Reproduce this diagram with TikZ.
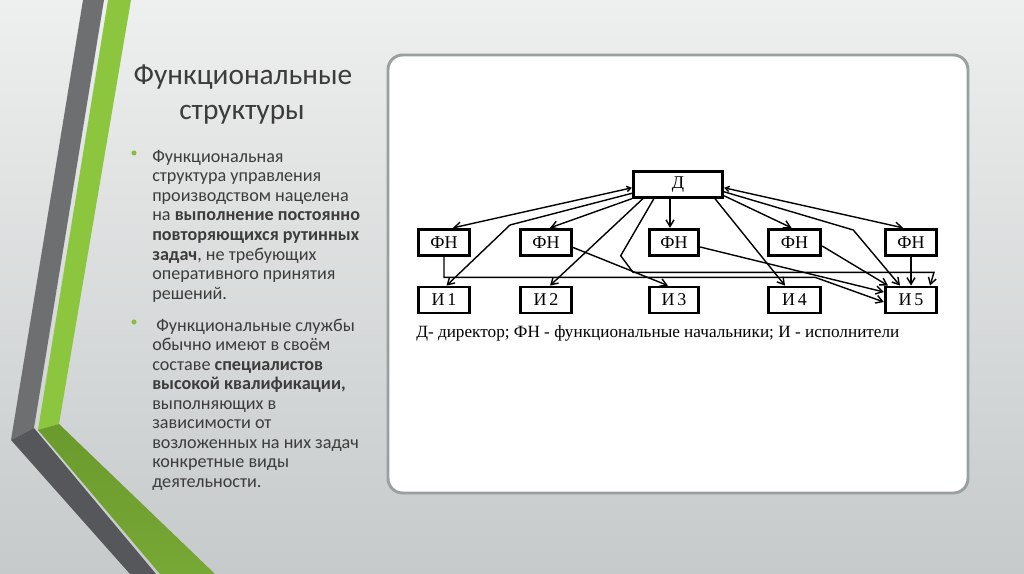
\documentclass[tikz,border=0pt]{standalone}
\usepackage{fontspec}
\setmainfont{Carlito}
\newfontfamily\serifcyr{Liberation Serif}
\usetikzlibrary{arrows.meta,calc}
\definecolor{bgtop}{HTML}{EEEFEF}
\definecolor{bgbot}{HTML}{C6CACA}
\definecolor{stripegray}{HTML}{6E6F71}
\definecolor{stripegraydark}{HTML}{55575A}
\definecolor{stripegreen}{HTML}{8CC63F}
\definecolor{stripegreendark}{HTML}{6A9A2C}
\definecolor{textgray}{HTML}{3C3C3C}
\definecolor{panelborder}{HTML}{9A9F9F}
\definecolor{bulletgreen}{HTML}{8DB843}
\tikzset{
  box/.style={draw=black, line width=2.1pt, fill=white, inner sep=0pt,
    minimum width=38.6pt, minimum height=19.9pt,
    font=\serifcyr\fontsize{13.5}{13.5}\selectfont},
  conn/.style={draw=black, line width=1.05pt},
  arr/.style={-{Straight Barb[length=5pt,width=6pt]}},
  darr/.style={{Straight Barb[length=3pt,width=4pt]}-{Straight Barb[length=5pt,width=6pt]}},
  bodytext/.style={anchor=base west, inner sep=0pt, text=textgray,
    font=\fontsize{13.6}{15}\selectfont},
  titletext/.style={anchor=base, inner sep=0pt, text=textgray,
    font=\fontsize{22}{26}\selectfont}
}
\begin{document}
\begin{tikzpicture}[x=0.75pt,y=-0.75pt]
\useasboundingbox (0,0) rectangle (1024,574);
% background
\shade[top color=bgtop, bottom color=bgbot] (0,0) rectangle (1024,574);
% left decorative stripes
\fill[stripegray] (83,0) -- (104,0) -- (34,428) -- (11,440) -- cycle;
\fill[stripegraydark] (11,440) -- (34,428) -- (156,574) -- (130,574) -- cycle;
\fill[stripegreen] (108,0) -- (131,0) -- (59,424) -- (38,430) -- cycle;
\shade[top color=stripegreendark, bottom color=stripegreen!85!black] (38,430) -- (59,424) -- (215,574) -- (160,574) -- cycle;
% panel
\draw[draw=panelborder, line width=2.2pt, fill=white, rounded corners=11pt] (388,55) rectangle (968,493);
% title
\node[titletext] (t1) at (243,85) {Функциональные};
\node[titletext] (t2) at (242,120) {структуры};
% bullets
\fill[bulletgreen] (134,153) circle[radius=1.9pt];
\fill[bulletgreen] (134,322) circle[radius=1.9pt];
% paragraph 1
\foreach \t [count=\i] in {
  {Функциональная},
  {структура управления},
  {производством нацелена},
  {на \textbf{выполнение постоянно}},
  {\textbf{повторяющихся рутинных}},
  {\textbf{задач}, не требующих},
  {оперативного принятия},
  {решений.}}
  \node[bodytext] (pa\i) at (152,{162+(\i-1)*19.6}) {\t};
% paragraph 2
\foreach \t [count=\i] in {
  {\hspace{3pt}Функциональные службы},
  {обычно имеют в своём},
  {составе \textbf{специалистов}},
  {\textbf{высокой квалификации,}},
  {выполняющих в},
  {зависимости от},
  {возложенных на них задач},
  {конкретные виды},
  {деятельности.}}
  \node[bodytext] (pb\i) at (152,{331+(\i-1)*19.5}) {\t};
% diagram nodes
\node[box, minimum width=67.1pt, minimum height=19.5pt] (D) at (678,184.3) {Д};
\node[box] (F1) at (444,242.5) {ФН};
\node[box] (F2) at (546,242.5) {ФН};
\node[box, minimum width=37.1pt] (F3) at (674,242.5) {ФН};
\node[box, minimum width=39.4pt] (F4) at (794.5,242.5) {ФН};
\node[box] (F5) at (911,242.5) {ФН};
\node[box, minimum height=19.5pt] (I1) at (444,300) {И\,1};
\node[box, minimum height=19.5pt] (I2) at (546,300) {И\,2};
\node[box, minimum height=19.5pt, minimum width=37.1pt] (I3) at (674,300) {И\,3};
\node[box, minimum height=19.5pt, minimum width=39.4pt] (I4) at (794.5,300) {И\,4};
\node[box, minimum height=19.5pt] (I5) at (911,300) {И\,5};
% bend points
\coordinate (b1) at (510,225);
\coordinate (b3a) at (620.7,255.7);
\coordinate (b3b) at (633,272.3);
\coordinate (b3c) at (934,272.3);
\coordinate (h1) at (444,277.3);
\coordinate (h2) at (815,277.3);
\coordinate (b5) at (853.3,230);
\coordinate (d3) at ($(D.south)+(-8,0)$);
% connectors
\draw[conn,darr] ($(D.west)+(0,3.5)$) -- ($(F1.north)+(9,0)$);
\draw[conn,arr] ($(D.west)+(0,9)$) -- (b1) -- ($(I1.north)+(2.5,0)$);
\draw[conn,arr] (D.south west) -- ($(F2.north)+(4,0)$);
\draw[conn,arr] ($(D.south west)+(11,0)$) -- ($(I2.north)+(4,0)$);
\draw[conn,arr] ($(D.south west)+(22,0)$) -- (b3a) -- (b3b) -- (b3c) -- ($(I5.north)+(19,0)$);
\draw[conn,arr] ($(F2.east)+(0,5)$) -- ($(I3.north)+(-6,0)$);
\draw[conn,arr] (d3) -- (d3 |- F3.north);
\draw[conn,arr] ($(D.south)+(37,0)$) -- ($(I4.north)+(-9.5,0)$);
\draw[conn,arr] (F1.south) -- (h1) -- (h2) -- ($(I5.west)+(0,2)$);
\draw[conn,arr] ($(F3.east)+(0,4.5)$) -- ($(I5.west)+(0,-8)$);
\draw[conn,arr] ($(F4.east)+(0,3.5)$) -- ($(I5.north)+(-23,0)$);
\draw[conn,arr] ($(D.east)+(0,7.5)$) -- (b5) -- ($(I5.north)+(-11,0)$);
\draw[conn,darr] ($(D.east)+(0,3.5)$) -- ($(F5.north)+(-8,0)$);
\draw[conn,arr] ($(D.east)+(0,11.5)$) -- ($(F4.north)+(-3,0)$);
\draw[conn,arr] (F5.south) -- (I5.north);
% legend
\node[anchor=base west, inner sep=0pt, font=\serifcyr\fontsize{12.9}{14}\selectfont] (legend) at (416,337)
  {Д- директор; ФН - функциональные начальники; И - исполнители};
\end{tikzpicture}
\end{document}
